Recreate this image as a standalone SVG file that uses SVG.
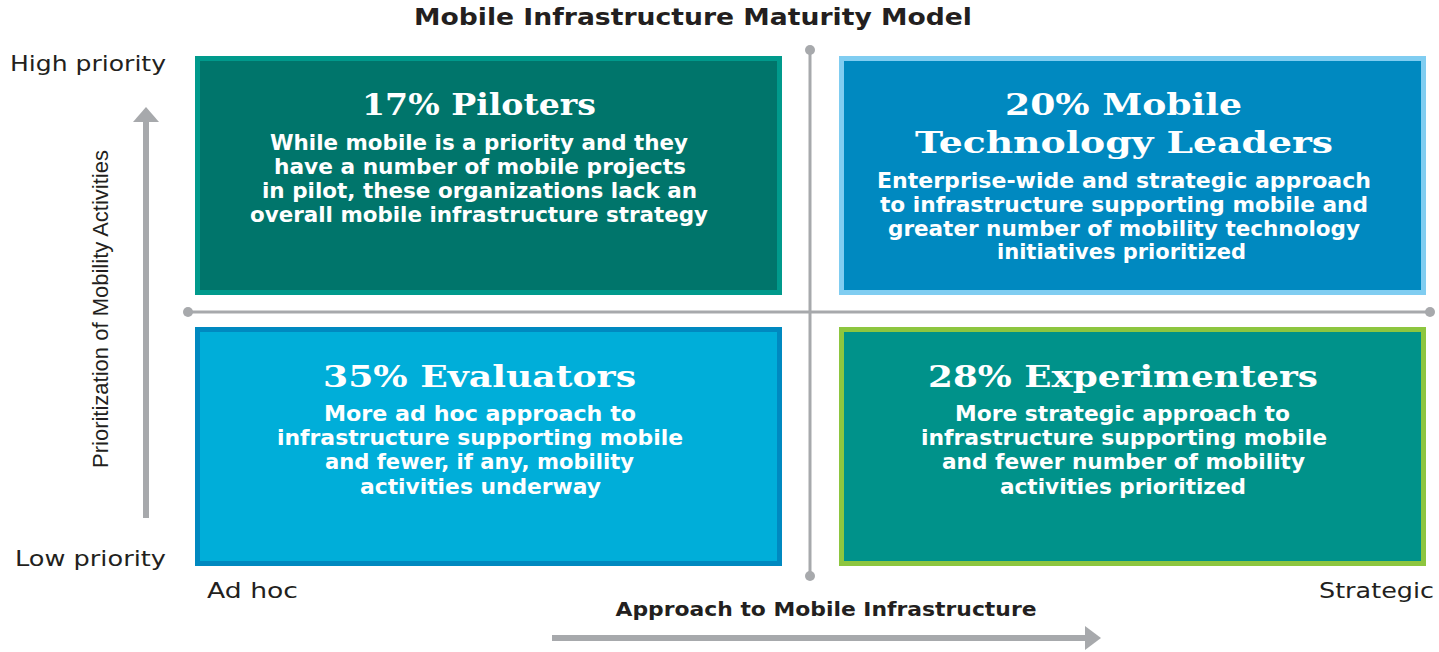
<svg xmlns="http://www.w3.org/2000/svg" width="1439" height="652" viewBox="0 0 1439 652">
<style>
.lbl{font-family:"DejaVu Sans","Liberation Sans",Arial,sans-serif;font-size:21px;fill:#231f20}
.ttl{font-family:"DejaVu Sans","Liberation Sans",Arial,sans-serif;font-weight:bold;fill:#231f20;text-anchor:middle}
.vl{font-family:"Liberation Sans",Arial,sans-serif;font-size:22px;fill:#231f20;text-anchor:middle}
.hd{font-family:"DejaVu Serif","Liberation Serif",serif;font-weight:bold;font-size:29px;fill:#fff;text-anchor:middle}
.bd{font-family:"DejaVu Sans","Liberation Sans",Arial,sans-serif;font-weight:bold;font-size:20.5px;fill:#fff;text-anchor:middle}
.ax{stroke:#a7a9ac;stroke-width:3;fill:none}
.dot{fill:#a7a9ac}
.arr{stroke:#a7a9ac;stroke-width:6;fill:none}
</style>
<rect width="1439" height="652" fill="#fff"/>
<text class="ttl" x="693" y="25" font-size="22.5" textLength="558" lengthAdjust="spacingAndGlyphs">Mobile Infrastructure Maturity Model</text>

<g id="connectors">
<line class="ax" x1="810" y1="50" x2="810" y2="576"/>
<circle class="dot" cx="810" cy="50" r="5"/>
<circle class="dot" cx="810" cy="576" r="5"/>
<line class="ax" x1="188" y1="312" x2="1430" y2="312"/>
<circle class="dot" cx="188" cy="312" r="5"/>
<circle class="dot" cx="1430" cy="312" r="5"/>
<line class="arr" x1="146" y1="518" x2="146" y2="120"/>
<polygon class="dot" points="146,107 133,122 159,122"/>
<line class="arr" x1="552" y1="638" x2="1086" y2="638"/>
<polygon class="dot" points="1101,638 1085,626 1085,650"/>
</g>

<g id="axis-labels">
<text class="lbl" x="10" y="71" textLength="156" lengthAdjust="spacingAndGlyphs">High priority</text>
<text class="lbl" x="15" y="566" textLength="151" lengthAdjust="spacingAndGlyphs">Low priority</text>
<text class="lbl" x="207" y="598" textLength="91" lengthAdjust="spacingAndGlyphs">Ad hoc</text>
<text class="lbl" x="1319" y="598" textLength="115" lengthAdjust="spacingAndGlyphs">Strategic</text>
<text class="ttl" x="826" y="616" font-size="19.5" textLength="421" lengthAdjust="spacingAndGlyphs">Approach to Mobile Infrastructure</text>
<text class="vl" x="0" y="0" textLength="318" lengthAdjust="spacingAndGlyphs" transform="translate(108,309) rotate(-90)">Prioritization of Mobility Activities</text>
</g>

<g id="piloters">
<rect x="197.5" y="58.5" width="582" height="234" fill="#00756b" stroke="#009a8c" stroke-width="5"/>
<text class="hd" x="479" y="115" textLength="234" lengthAdjust="spacingAndGlyphs">17% Piloters</text>
<text class="bd" x="479" y="150" textLength="418" lengthAdjust="spacingAndGlyphs">While mobile is a priority and they</text>
<text class="bd" x="480" y="174" textLength="412" lengthAdjust="spacingAndGlyphs">have a number of mobile projects</text>
<text class="bd" x="479.5" y="198" textLength="435" lengthAdjust="spacingAndGlyphs">in pilot, these organizations lack an</text>
<text class="bd" x="479" y="222" textLength="458" lengthAdjust="spacingAndGlyphs">overall mobile infrastructure strategy</text>
</g>

<g id="leaders">
<rect x="841.5" y="58.5" width="582" height="234" fill="#0089c0" stroke="#80cdf1" stroke-width="5"/>
<text class="hd" x="1123.5" y="115" textLength="237" lengthAdjust="spacingAndGlyphs">20% Mobile</text>
<text class="hd" x="1124" y="153" textLength="418" lengthAdjust="spacingAndGlyphs">Technology Leaders</text>
<text class="bd" x="1124" y="188" textLength="494" lengthAdjust="spacingAndGlyphs">Enterprise-wide and strategic approach</text>
<text class="bd" x="1124" y="212" textLength="488" lengthAdjust="spacingAndGlyphs">to infrastructure supporting mobile and</text>
<text class="bd" x="1124" y="236" textLength="472" lengthAdjust="spacingAndGlyphs">greater number of mobility technology</text>
<text class="bd" x="1121.5" y="259" textLength="249" lengthAdjust="spacingAndGlyphs">initiatives prioritized</text>
</g>

<g id="evaluators">
<rect x="197.5" y="329.5" width="582" height="234" fill="#00aed9" stroke="#0089c0" stroke-width="5"/>
<text class="hd" x="479.5" y="387" textLength="313" lengthAdjust="spacingAndGlyphs">35% Evaluators</text>
<text class="bd" x="480" y="421" textLength="312" lengthAdjust="spacingAndGlyphs">More ad hoc approach to</text>
<text class="bd" x="480" y="445" textLength="406" lengthAdjust="spacingAndGlyphs">infrastructure supporting mobile</text>
<text class="bd" x="479.5" y="469" textLength="309" lengthAdjust="spacingAndGlyphs">and fewer, if any, mobility</text>
<text class="bd" x="480.5" y="494" textLength="241" lengthAdjust="spacingAndGlyphs">activities underway</text>
</g>

<g id="experimenters">
<rect x="841.5" y="329.5" width="582" height="234" fill="#00928a" stroke="#8dc63f" stroke-width="5"/>
<text class="hd" x="1123" y="387" textLength="390" lengthAdjust="spacingAndGlyphs">28% Experimenters</text>
<text class="bd" x="1122.5" y="421" textLength="335" lengthAdjust="spacingAndGlyphs">More strategic approach to</text>
<text class="bd" x="1124" y="445" textLength="406" lengthAdjust="spacingAndGlyphs">infrastructure supporting mobile</text>
<text class="bd" x="1123.5" y="469" textLength="363" lengthAdjust="spacingAndGlyphs">and fewer number of mobility</text>
<text class="bd" x="1123" y="494" textLength="246" lengthAdjust="spacingAndGlyphs">activities prioritized</text>
</g>
</svg>
